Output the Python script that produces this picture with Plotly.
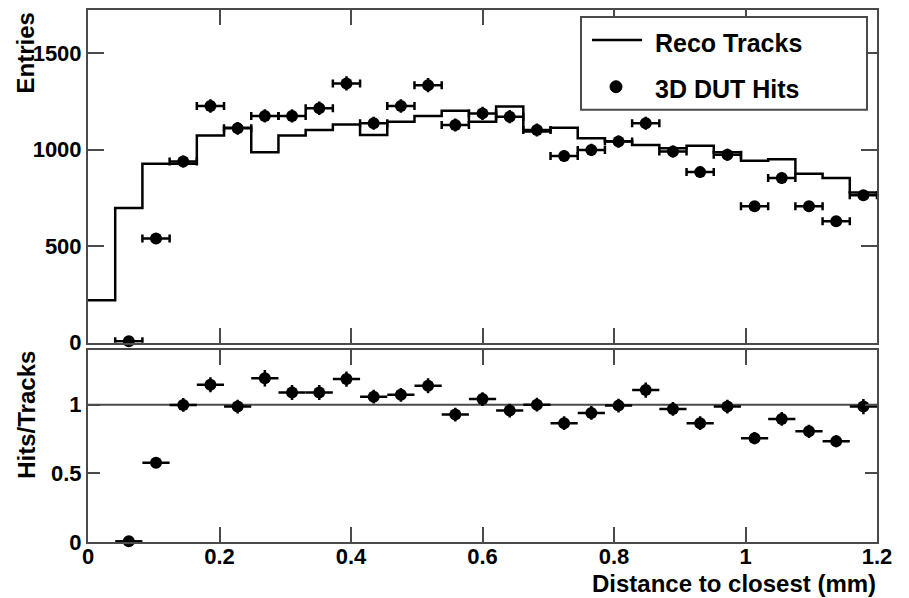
import plotly.graph_objects as go

# binning: 29 bins between 0 and 1.2 mm
n_bins = 29
x_lo, x_hi = 0.0, 1.2

# Reco Tracks histogram contents (all bins)
tracks = [220, 697, 926, 926, 1072, 1113, 986, 1072, 1101, 1130,
          1075, 1144, 1174, 1201, 1144, 1222, 1093, 1113, 1058, 1043,
          1024, 1007, 1019, 986, 942, 950, 875, 852, 778]

# 3D DUT hits, starting at bin 1 (bin 0 is empty)
first_hit_bin = 1
hits = [8, 540, 938, 1225, 1110, 1174, 1174, 1213, 1342, 1136,
        1225, 1333, 1127, 1187, 1170, 1101, 967, 998, 1041, 1136,
        990, 883, 973, 706, 852, 706, 629, 763]
hits_err = [3, 23, 31, 35, 33, 34, 34, 35, 37, 34,
            35, 37, 34, 34, 34, 33, 31, 32, 32, 34,
            31, 30, 31, 27, 29, 27, 25, 28]

# Hits/Tracks ratio
ratio = [0.005, 0.577, 0.998, 1.145, 0.986, 1.193, 1.089, 1.089, 1.186, 1.058,
         1.072, 1.138, 0.928, 1.041, 0.957, 1.0, 0.865, 0.940, 0.993, 1.106,
         0.969, 0.865, 0.986, 0.756, 0.896, 0.806, 0.734, 0.986]
ratio_err = [0.004, 0.03, 0.05, 0.055, 0.05, 0.06, 0.055, 0.055, 0.055, 0.05,
             0.05, 0.055, 0.05, 0.05, 0.05, 0.05, 0.05, 0.05, 0.05, 0.055,
             0.05, 0.05, 0.05, 0.045, 0.05, 0.048, 0.045, 0.055]

xticks = [0, 0.2, 0.4, 0.6, 0.8, 1.0, 1.2]
xtick_text = ["0", "0.2", "0.4", "0.6", "0.8", "1", "1.2"]

bw = (x_hi - x_lo) / n_bins
edges = [x_lo + i * bw for i in range(n_bins + 1)]
centers = [x_lo + (i + 0.5) * bw for i in range(n_bins)]
hit_x = centers[first_hit_bin:]

# page body has an 8px margin, so the figure is a bit smaller than the window
OFF = 8
W, H = 909 - OFF, 598 - OFF
ML, MR, MT, MB = 80, 32, 0, 56
pw, ph = W - ML - MR, H - MT - MB


def px(x):  # page pixel -> paper
    return (x - OFF - ML) / pw


def py(y):
    return (H - MB - (y - OFF)) / ph


FONT = "Liberation Sans, Arial, sans-serif"
frame = "#4a4a4a"

fig = go.Figure()

fig.add_trace(go.Scatter(
    x=edges, y=tracks + [tracks[-1]], mode="lines",
    line=dict(shape="hv", color="black", width=2.5),
    xaxis="x", yaxis="y", showlegend=False))

fig.add_trace(go.Scatter(
    x=hit_x, y=hits, mode="markers",
    marker=dict(color="black", size=12),
    error_x=dict(type="constant", value=bw / 2, color="black", thickness=2.5, width=4),
    error_y=dict(type="data", array=hits_err, color="black", thickness=2.5, width=0),
    xaxis="x", yaxis="y", showlegend=False, cliponaxis=False))

fig.add_trace(go.Scatter(
    x=hit_x, y=ratio, mode="markers",
    marker=dict(color="black", size=12),
    error_x=dict(type="constant", value=bw / 2, color="black", thickness=2.5, width=0),
    error_y=dict(type="data", array=ratio_err, color="black", thickness=2.5, width=0),
    xaxis="x2", yaxis="y2", showlegend=False, cliponaxis=False))

axis_style = dict(showline=True, linecolor=frame, linewidth=2, mirror="ticks",
                  ticks="inside", tickcolor=frame, tickwidth=2,
                  showgrid=False, zeroline=False)

fig.update_layout(
    width=W, height=H,
    margin=dict(l=ML, r=MR, t=MT, b=MB),
    paper_bgcolor="white", plot_bgcolor="white",
    font=dict(family=FONT, size=22, color="black", weight="bold"),
    xaxis=dict(domain=[0, 1], anchor="y", range=[x_lo, x_hi], tickvals=xticks,
               showticklabels=False, ticklen=15, **axis_style),
    yaxis=dict(domain=[py(342), 1], anchor="x", range=[0, 1722],
               tickvals=[0, 500, 1000, 1500], ticklen=16, ticklabelstandoff=0,
               **axis_style),
    xaxis2=dict(domain=[0, 1], anchor="y2", range=[x_lo, x_hi + 1e-6], tickvals=xticks,
                ticktext=xtick_text, ticklen=15, ticklabelstandoff=-6, **axis_style),
    yaxis2=dict(domain=[0, py(349)], anchor="x2", range=[0, 1.4],
                tickvals=[0, 0.5, 1], ticktext=["0", "0.5", "1"], ticklen=12,
                ticklabelstandoff=0, **axis_style),
)

# reference line at ratio 1
fig.add_shape(type="line", xref="x2", yref="y2", x0=x_lo, x1=x_hi, y0=1, y1=1,
              line=dict(color=frame, width=2), layer="below")

# legend box
fig.add_shape(type="rect", xref="paper", yref="paper",
              x0=px(581), x1=px(867), y0=py(108), y1=py(15),
              line=dict(color=frame, width=2), fillcolor="white")
fig.add_shape(type="line", xref="paper", yref="paper",
              x0=px(592), x1=px(642), y0=py(38), y1=py(38),
              line=dict(color="black", width=2.5))
fig.add_shape(type="circle", xref="paper", yref="paper",
              x0=px(610), x1=px(622), y0=py(91), y1=py(79),
              line=dict(color="black", width=1), fillcolor="black")

ann_font = dict(family=FONT, size=25, color="black", weight="bold")
fig.add_annotation(text="Reco Tracks", xref="paper", yref="paper", x=px(653), y=py(41),
                   xanchor="left", yanchor="middle", showarrow=False, font=ann_font)
fig.add_annotation(text="3D DUT Hits", xref="paper", yref="paper", x=px(653), y=py(87),
                   xanchor="left", yanchor="middle", showarrow=False, font=ann_font)

title_font = dict(family=FONT, size=24, color="black", weight="bold")
fig.add_annotation(text="Entries", xref="paper", yref="paper", x=px(25), y=py(9),
                   xanchor="center", yanchor="top", textangle=-90, showarrow=False,
                   font=title_font)
fig.add_annotation(text="Hits/Tracks", xref="paper", yref="paper", x=px(27), y=py(348),
                   xanchor="center", yanchor="top", textangle=-90, showarrow=False,
                   font=title_font)
fig.add_annotation(text="Distance to closest (mm)", xref="paper", yref="paper",
                   x=px(878), y=py(584), xanchor="right", yanchor="middle",
                   showarrow=False, font=title_font)

fig.write_html("out.html")
